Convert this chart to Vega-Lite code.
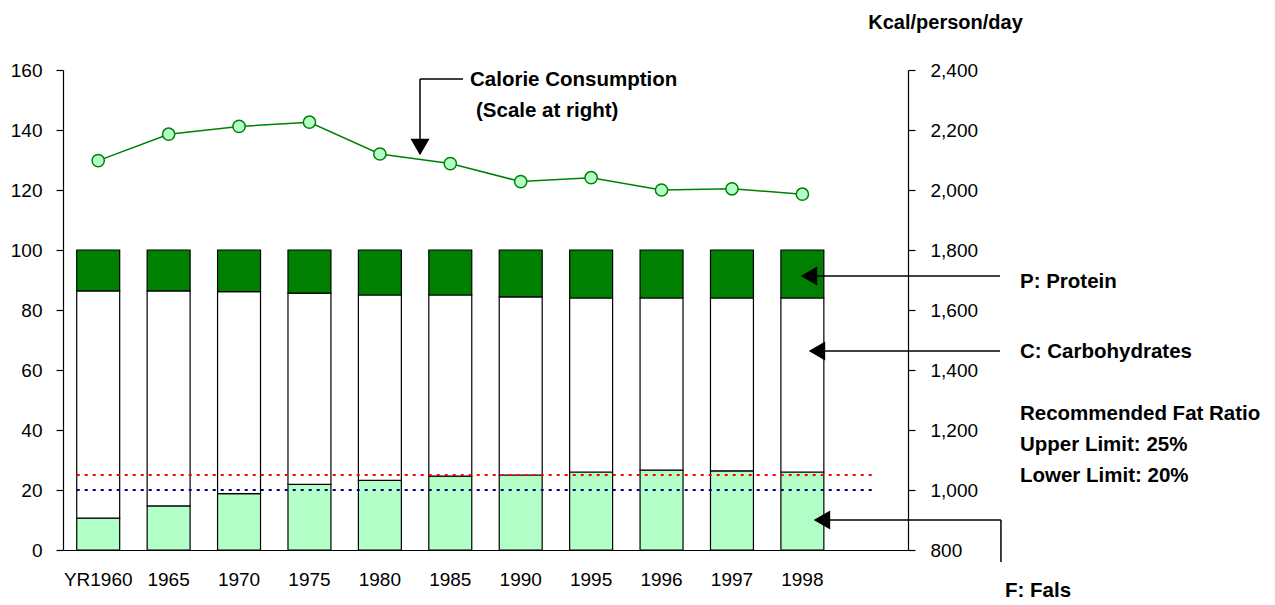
{
  "$schema": "https://vega.github.io/schema/vega-lite/v6.json",
  "width": 845,
  "height": 480,
  "autosize": "none",
  "padding": {"left": 63, "top": 70, "right": 367, "bottom": 55},
  "background": "white",
  "config": {
    "view": {"stroke": null},
    "font": "Liberation Sans",
    "axis": {"labelFont": "Liberation Sans", "labelColor": "black", "domainColor": "black", "tickColor": "black", "grid": false, "labelFontSize": 19, "domainWidth": 1.2, "tickWidth": 1.2},
    "text": {"font": "Liberation Sans", "fontSize": 20.5, "fontWeight": "bold", "align": "left", "baseline": "middle", "color": "black"}
  },
  "datasets": {
    "shares": [
      {"year": "YR1960", "nutrient": "Fat", "share": 10.6},
      {"year": "YR1960", "nutrient": "Carbohydrates", "share": 75.8},
      {"year": "YR1960", "nutrient": "Protein", "share": 13.6},
      {"year": "1965", "nutrient": "Fat", "share": 14.7},
      {"year": "1965", "nutrient": "Carbohydrates", "share": 71.7},
      {"year": "1965", "nutrient": "Protein", "share": 13.6},
      {"year": "1970", "nutrient": "Fat", "share": 18.8},
      {"year": "1970", "nutrient": "Carbohydrates", "share": 67.3},
      {"year": "1970", "nutrient": "Protein", "share": 13.9},
      {"year": "1975", "nutrient": "Fat", "share": 21.9},
      {"year": "1975", "nutrient": "Carbohydrates", "share": 63.7},
      {"year": "1975", "nutrient": "Protein", "share": 14.4},
      {"year": "1980", "nutrient": "Fat", "share": 23.2},
      {"year": "1980", "nutrient": "Carbohydrates", "share": 61.8},
      {"year": "1980", "nutrient": "Protein", "share": 15.0},
      {"year": "1985", "nutrient": "Fat", "share": 24.6},
      {"year": "1985", "nutrient": "Carbohydrates", "share": 60.4},
      {"year": "1985", "nutrient": "Protein", "share": 15.0},
      {"year": "1990", "nutrient": "Fat", "share": 25.0},
      {"year": "1990", "nutrient": "Carbohydrates", "share": 59.4},
      {"year": "1990", "nutrient": "Protein", "share": 15.6},
      {"year": "1995", "nutrient": "Fat", "share": 26.0},
      {"year": "1995", "nutrient": "Carbohydrates", "share": 58.0},
      {"year": "1995", "nutrient": "Protein", "share": 16.0},
      {"year": "1996", "nutrient": "Fat", "share": 26.6},
      {"year": "1996", "nutrient": "Carbohydrates", "share": 57.4},
      {"year": "1996", "nutrient": "Protein", "share": 16.0},
      {"year": "1997", "nutrient": "Fat", "share": 26.4},
      {"year": "1997", "nutrient": "Carbohydrates", "share": 57.6},
      {"year": "1997", "nutrient": "Protein", "share": 16.0},
      {"year": "1998", "nutrient": "Fat", "share": 26.0},
      {"year": "1998", "nutrient": "Carbohydrates", "share": 58.0},
      {"year": "1998", "nutrient": "Protein", "share": 16.0}
    ],
    "nutrients": [
      {"nutrient": "Fat", "rank": 1},
      {"nutrient": "Carbohydrates", "rank": 2},
      {"nutrient": "Protein", "rank": 3}
    ],
    "calories": [
      {"year": "YR1960", "kcal": 2098},
      {"year": "1965", "kcal": 2186},
      {"year": "1970", "kcal": 2212},
      {"year": "1975", "kcal": 2226},
      {"year": "1980", "kcal": 2120},
      {"year": "1985", "kcal": 2088},
      {"year": "1990", "kcal": 2028},
      {"year": "1995", "kcal": 2041},
      {"year": "1996", "kcal": 2000},
      {"year": "1997", "kcal": 2004},
      {"year": "1998", "kcal": 1986}
    ]
  },
  "resolve": {"scale": {"x": "independent", "y": "independent"}, "axis": {"x": "independent", "y": "independent"}},
  "layer": [
    {
      "data": {"name": "shares"},
      "transform": [
        {"lookup": "nutrient", "from": {"data": {"name": "nutrients"}, "key": "nutrient", "fields": ["rank"]}}
      ],
      "mark": {"type": "bar", "stroke": "black", "strokeWidth": 1.2},
      "encoding": {
        "x": {"field": "year", "type": "nominal", "sort": null,
          "scale": {"type": "band", "domain": ["YR1960", "1965", "1970", "1975", "1980", "1985", "1990", "1995", "1996", "1997", "1998", " "], "paddingInner": 0.39, "paddingOuter": 0.195},
          "axis": {"title": null, "labelAngle": 0, "ticks": false, "tickSize": 0, "labelPadding": 20, "labelBaseline": "top"}},
        "y": {"field": "share", "type": "quantitative", "stack": "zero",
          "scale": {"domain": [0, 160], "nice": false, "zero": true},
          "axis": {"title": null, "orient": "left", "values": [0, 20, 40, 60, 80, 100, 120, 140, 160], "tickSize": 7, "labelPadding": 14}},
        "order": {"field": "rank", "type": "quantitative", "sort": "ascending"},
        "color": {"field": "nutrient", "type": "nominal",
          "scale": {"domain": ["Fat", "Carbohydrates", "Protein"], "range": ["#b3ffc8", "#ffffff", "#008000"]}, "legend": null}
      }
    },
    {
      "data": {"name": "calories"},
      "encoding": {
        "x": {"field": "year", "type": "nominal", "sort": null,
          "scale": {"type": "band", "domain": ["YR1960", "1965", "1970", "1975", "1980", "1985", "1990", "1995", "1996", "1997", "1998", " "], "paddingInner": 0.39, "paddingOuter": 0.195},
          "axis": null},
        "y": {"field": "kcal", "type": "quantitative",
          "scale": {"domain": [800, 2400], "nice": false, "zero": false},
          "axis": {"orient": "right", "values": [800, 1000, 1200, 1400, 1600, 1800, 2000, 2200, 2400], "format": ",.0f", "tickSize": 7, "labelPadding": 15,
            "title": "Kcal/person/day", "titleAngle": 0, "titleFont": "Liberation Sans", "titleFontSize": 20, "titleFontWeight": "bold", "titleAlign": "center", "titleBaseline": "middle", "titleX": 37, "titleY": -48, "titleColor": "black"}}
      },
      "layer": [
        {"mark": {"type": "line", "color": "#008000", "strokeWidth": 1.5}},
        {"mark": {"type": "point", "shape": "circle", "filled": true, "fill": "#b3ffc8", "stroke": "#008000", "strokeWidth": 1.5, "size": 150, "opacity": 1}}
      ]
    },
    {
      "data": {"values": [{}]},
      "layer": [
        {"mark": {"type": "rule", "color": "#ff0000", "strokeWidth": 2.2, "strokeDash": [3, 5]},
         "encoding": {"x": {"datum": 0.195, "type": "quantitative", "scale": {"domain": [0, 12], "nice": false, "zero": false}, "axis": null}, "x2": {"datum": 11.53},
           "y": {"datum": 25, "type": "quantitative", "scale": {"domain": [0, 160], "nice": false}, "axis": null}}},
        {"mark": {"type": "rule", "color": "#000080", "strokeWidth": 2.2, "strokeDash": [3, 5]},
         "encoding": {"x": {"datum": 0.195, "type": "quantitative"}, "x2": {"datum": 11.53},
           "y": {"datum": 20, "type": "quantitative"}}},
        {"mark": {"type": "rule", "color": "black", "strokeWidth": 1.5},
         "encoding": {"x": {"datum": 5.07, "type": "quantitative"}, "x2": {"datum": 5.68}, "y": {"datum": 157, "type": "quantitative"}}},
        {"mark": {"type": "rule", "color": "black", "strokeWidth": 1.5},
         "encoding": {"x": {"datum": 5.07, "type": "quantitative"}, "y": {"datum": 157, "type": "quantitative"}, "y2": {"datum": 134.3}}},
        {"mark": {"type": "point", "shape": "triangle-down", "filled": true, "color": "black", "size": 361, "opacity": 1},
         "encoding": {"x": {"datum": 5.07, "type": "quantitative"}, "y": {"datum": 134.3, "type": "quantitative"}}},
        {"mark": {"type": "text"},
         "encoding": {"x": {"datum": 5.78, "type": "quantitative"}, "y": {"datum": 156.67, "type": "quantitative"}, "text": {"value": "Calorie Consumption"}}},
        {"mark": {"type": "text"},
         "encoding": {"x": {"datum": 5.865, "type": "quantitative"}, "y": {"datum": 146.33, "type": "quantitative"}, "text": {"value": "(Scale at right)"}}},
        {"mark": {"type": "rule", "color": "black", "strokeWidth": 1.5},
         "encoding": {"x": {"datum": 10.594, "type": "quantitative"}, "x2": {"datum": 13.306}, "y": {"datum": 91.33, "type": "quantitative"}}},
        {"mark": {"type": "point", "shape": "triangle-left", "filled": true, "color": "black", "size": 361, "opacity": 1},
         "encoding": {"x": {"datum": 10.594, "type": "quantitative"}, "y": {"datum": 91.33, "type": "quantitative"}}},
        {"mark": {"type": "text"},
         "encoding": {"x": {"datum": 13.59, "type": "quantitative"}, "y": {"datum": 89.33, "type": "quantitative"}, "text": {"value": "P: Protein"}}},
        {"mark": {"type": "rule", "color": "black", "strokeWidth": 1.5},
         "encoding": {"x": {"datum": 10.707, "type": "quantitative"}, "x2": {"datum": 13.306}, "y": {"datum": 66.33, "type": "quantitative"}}},
        {"mark": {"type": "point", "shape": "triangle-left", "filled": true, "color": "black", "size": 361, "opacity": 1},
         "encoding": {"x": {"datum": 10.707, "type": "quantitative"}, "y": {"datum": 66.33, "type": "quantitative"}}},
        {"mark": {"type": "text"},
         "encoding": {"x": {"datum": 13.59, "type": "quantitative"}, "y": {"datum": 66.0, "type": "quantitative"}, "text": {"value": "C: Carbohydrates"}}},
        {"mark": {"type": "text", "lineHeight": 31},
         "encoding": {"x": {"datum": 13.59, "type": "quantitative"}, "y": {"datum": 45.33, "type": "quantitative"}, "text": {"value": ["Recommended Fat Ratio", "Upper Limit: 25%", "Lower Limit: 20%"]}}},
        {"mark": {"type": "rule", "color": "black", "strokeWidth": 1.5},
         "encoding": {"x": {"datum": 10.778, "type": "quantitative"}, "x2": {"datum": 13.32}, "y": {"datum": 10, "type": "quantitative"}}},
        {"mark": {"type": "rule", "color": "black", "strokeWidth": 1.5},
         "encoding": {"x": {"datum": 13.32, "type": "quantitative"}, "y": {"datum": 10, "type": "quantitative"}, "y2": {"datum": -4}}},
        {"mark": {"type": "point", "shape": "triangle-left", "filled": true, "color": "black", "size": 361, "opacity": 1},
         "encoding": {"x": {"datum": 10.778, "type": "quantitative"}, "y": {"datum": 10, "type": "quantitative"}}},
        {"mark": {"type": "text"},
         "encoding": {"x": {"datum": 13.377, "type": "quantitative"}, "y": {"datum": -13.67, "type": "quantitative"}, "text": {"value": "F: Fals"}}}
      ]
    }
  ]
}
